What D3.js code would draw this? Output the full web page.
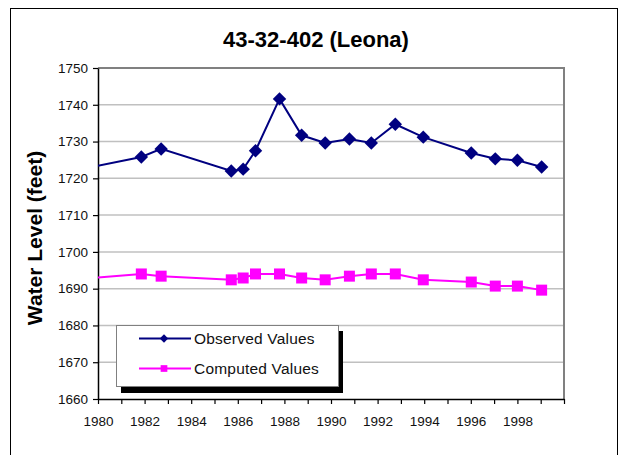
<!DOCTYPE html>
<html>
<head>
<meta charset="utf-8">
<script src="https://cdn.jsdelivr.net/npm/d3@7"></script>
<style>
  body { margin: 0; background: #fff; }
  text { font-family: Arial, "Liberation Sans", sans-serif; }
</style>
</head>
<body>
<div id="chart"></div>
<script>
// DATA (first point sits before 1980 and is clipped)
const YEARS = [1978.5, 1981.86, 1982.71, 1985.72, 1986.23, 1986.76, 1987.79, 1988.74, 1989.75,
  1990.79, 1991.73, 1992.76, 1993.96, 1996.02, 1997.05, 1998.0, 1999.04];
const OBSERVED = [1721.5, 1725.8, 1728.0, 1722.0, 1722.5, 1727.5, 1741.6, 1731.7, 1729.6,
  1730.7, 1729.6, 1734.7, 1731.2, 1726.9, 1725.3, 1724.9, 1723.1];
const COMPUTED = [1692.2, 1694.0, 1693.4, 1692.4, 1692.9, 1694.0, 1694.0, 1692.9, 1692.4,
  1693.4, 1694.0, 1694.0, 1692.4, 1691.8, 1690.7, 1690.7, 1689.6];
const SERIES_NAMES = ["Observed Values", "Computed Values"];
const X_TICKS = [1980, 1981, 1982, 1983, 1984, 1985, 1986, 1987, 1988, 1989, 1990,
  1991, 1992, 1993, 1994, 1995, 1996, 1997, 1998, 1999, 2000];
const X_LABELS = [1980, 1982, 1984, 1986, 1988, 1990, 1992, 1994, 1996, 1998];
const Y_TICKS = [1660, 1670, 1680, 1690, 1700, 1710, 1720, 1730, 1740, 1750];
const TITLE = "43-32-402 (Leona)";
const Y_TITLE = "Water Level (feet)";

const WIDTH = 621, HEIGHT = 455;
const PLOT = { left: 98, top: 68, right: 564, bottom: 399 };
const NAVY = "#000080", MAGENTA = "#ff00ff";

const svg = d3.select("#chart")
  .append("svg")
  .attr("width", WIDTH)
  .attr("height", HEIGHT)

// OUTER CHART BORDER
svg.append("rect")
  .attr("x", 10.5)
  .attr("y", 8.5)
  .attr("width", 607)
  .attr("height", 470)
  .style("fill", "none")
  .style("stroke", "black")
  .style("stroke-width", 1)

// TITLE
svg.append("text")
  .attr("x", 316)
  .attr("y", 47)
  .attr("text-anchor", "middle")
  .text(TITLE)
  .style("font-size", "22px")
  .style("font-weight", "bold")

// Y AXIS TITLE
svg.append("text")
  .attr("transform", "translate(42,238) rotate(-90)")
  .attr("text-anchor", "middle")
  .text(Y_TITLE)
  .style("font-size", "21px")
  .style("font-weight", "bold")

const x = d3.scaleLinear().domain([1980, 2000]).range([PLOT.left, PLOT.right]);
const y = d3.scaleLinear().domain([1660, 1750]).range([PLOT.bottom, PLOT.top]);

// GRIDLINES
svg.append("g")
  .selectAll("line")
  .data(Y_TICKS.slice(1, -1))
  .join("line")
  .attr("x1", PLOT.left)
  .attr("x2", PLOT.right)
  .attr("y1", d => y(d))
  .attr("y2", d => y(d))
  .style("stroke", "#c0c0c0")
  .style("stroke-width", 1.5)

// PLOT AREA BORDER (top / right)
svg.append("path")
  .attr("d", `M${PLOT.left},${PLOT.top}H${PLOT.right}V${PLOT.bottom}`)
  .style("fill", "none")
  .style("stroke", "#808080")
  .style("stroke-width", 2)

// AXES
const xAxis = svg.append("g")
  .attr("transform", `translate(0,${PLOT.bottom})`)
  .call(d3.axisBottom(x)
    .tickValues(X_TICKS)
    .tickFormat(d => X_LABELS.includes(d) ? d : "")
    .tickSize(5)
    .tickSizeOuter(0)
    .tickPadding(12))

const yAxis = svg.append("g")
  .attr("transform", `translate(${PLOT.left},0)`)
  .call(d3.axisLeft(y)
    .tickValues(Y_TICKS)
    .tickFormat(d3.format("d"))
    .tickSize(5)
    .tickSizeOuter(0)
    .tickPadding(5))

for (const ax of [xAxis, yAxis]) {
  ax.select(".domain").style("stroke", "black").style("stroke-width", 1.5)
  ax.selectAll(".tick line").style("stroke", "black").style("stroke-width", 1.2)
  ax.selectAll("text")
    .style("font-size", "13.5px")
    .style("font-family", "Arial, 'Liberation Sans', sans-serif")
    .style("fill", "#111")
}

// CLIP TO PLOT AREA
svg.append("clipPath")
  .attr("id", "plot-clip")
  .append("rect")
  .attr("x", PLOT.left)
  .attr("y", PLOT.top - 10)
  .attr("width", PLOT.right - PLOT.left + 10)
  .attr("height", PLOT.bottom - PLOT.top + 10)

const plot = svg.append("g").attr("clip-path", "url(#plot-clip)");

const line = (vals) => d3.line()
  .x((d, i) => x(YEARS[i]))
  .y(d => y(d))(vals);

const diamond = d3.symbol().type(d3.symbolDiamond2);
const square = d3.symbol().type(d3.symbolSquare);

// OBSERVED SERIES
plot.append("path")
  .attr("d", line(OBSERVED))
  .style("fill", "none")
  .style("stroke", NAVY)
  .style("stroke-width", 2)

plot.selectAll(".obs")
  .data(OBSERVED)
  .join("path")
  .attr("class", "obs")
  .attr("transform", (d, i) => `translate(${x(YEARS[i])},${y(d)})`)
  .attr("d", diamond.size(115))
  .style("fill", NAVY)

// COMPUTED SERIES
plot.append("path")
  .attr("d", line(COMPUTED))
  .style("fill", "none")
  .style("stroke", MAGENTA)
  .style("stroke-width", 2)

plot.selectAll(".comp")
  .data(COMPUTED)
  .join("path")
  .attr("class", "comp")
  .attr("transform", (d, i) => `translate(${x(YEARS[i])},${y(d)})`)
  .attr("d", square.size(121))
  .style("fill", MAGENTA)

// LEGEND
const legend = svg.append("g").attr("transform", "translate(116,325)");

legend.append("rect")
  .attr("x", 5)
  .attr("y", 6)
  .attr("width", 222)
  .attr("height", 62)
  .style("fill", "black")

legend.append("rect")
  .attr("x", 0.5)
  .attr("y", 0.5)
  .attr("width", 222)
  .attr("height", 61)
  .style("fill", "white")
  .style("stroke", "#808080")
  .style("stroke-width", 1)

const entries = [
  { name: SERIES_NAMES[0], color: NAVY, sym: diamond.size(45), y: 13.5 },
  { name: SERIES_NAMES[1], color: MAGENTA, sym: square.size(45), y: 43.5 }
];

for (const e of entries) {
  legend.append("line")
    .attr("x1", 23)
    .attr("x2", 75)
    .attr("y1", e.y)
    .attr("y2", e.y)
    .style("stroke", e.color)
    .style("stroke-width", 2)
  legend.append("path")
    .attr("transform", `translate(48,${e.y})`)
    .attr("d", e.sym)
    .style("fill", e.color)
  legend.append("text")
    .attr("x", 78)
    .attr("y", e.y + 5.5)
    .text(e.name)
    .style("font-size", "15.5px")
    .style("letter-spacing", "0.2px")
    .style("fill", "#111")
}
</script>
</body>
</html>
